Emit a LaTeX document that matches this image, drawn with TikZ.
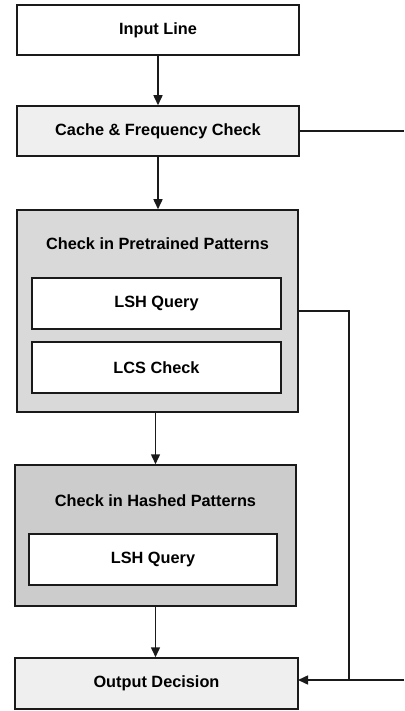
\documentclass[tikz,border=0pt]{standalone}
\usepackage{fontspec}
\setmainfont{Liberation Sans}
\usetikzlibrary{arrows.meta}
\definecolor{lightbox}{HTML}{EFEFEF}
\definecolor{preFill}{HTML}{D9D9D9}
\definecolor{hashFill}{HTML}{CCCCCC}
\definecolor{edge}{HTML}{1A1A1A}
\begin{document}
\begin{tikzpicture}[x=1pt,y=-1pt,
  box/.style={draw=edge,line width=1.5pt,rectangle,inner sep=0pt,minimum width=#1,font=\bfseries\fontsize{16.3}{19}\selectfont},
  box/.default=282pt,
  title/.style={inner sep=0pt,font=\bfseries\fontsize{16.3}{19}\selectfont},
  conn/.style={draw=edge,line width=1.5pt},
  arr/.style={conn,-{Triangle[length=10pt,width=9pt]}}]
\useasboundingbox (0,0) rectangle (404,711);
% main boxes
\node[box,fill=white,minimum height=50pt] (in) at (158,30) {Input Line};
\node[box,fill=lightbox,minimum height=50pt] (cache) at (158,131) {Cache \& Frequency Check};
\node[box=281pt,fill=preFill,minimum height=202pt] (pre) at (157.5,311) {};
\node[title] (pretitle) at (157.5,244) {Check in Pretrained Patterns};
\node[box=249pt,fill=white,minimum height=51pt] (lsha) at (156.5,303.5) {LSH Query};
\node[box=249pt,fill=white,minimum height=51pt] (lcs) at (156.5,367.5) {LCS Check};
\node[box=281pt,fill=hashFill,minimum height=141pt] (hash) at (155.5,535.5) {};
\node[title] (hashtitle) at (155.5,501) {Check in Hashed Patterns};
\node[box=248pt,fill=white,minimum height=51pt] (lshb) at (153,559.5) {LSH Query};
\node[box=283pt,fill=lightbox,minimum height=51pt] (out) at (156.5,683.5) {Output Decision};
% free ends and joints
\coordinate (cacheout) at (404,131);
\coordinate (join) at (349,680);
\coordinate (rin) at (404,680);
\coordinate (outin) at (298,680);
% connectors
\draw[arr] (in.south) -- (cache.north);
\draw[arr] (cache.south) -- (cache.south |- pre.north);
\draw[conn] (cache.east) -- (cacheout);
\draw[arr] (hash.north |- pre.south) -- (hash.north);
\draw[arr] (hash.south) -- (hash.south |- out.north);
\draw[conn] (pre.east) -| (join);
\draw[arr] (rin) -- (outin);
\end{tikzpicture}
\end{document}
